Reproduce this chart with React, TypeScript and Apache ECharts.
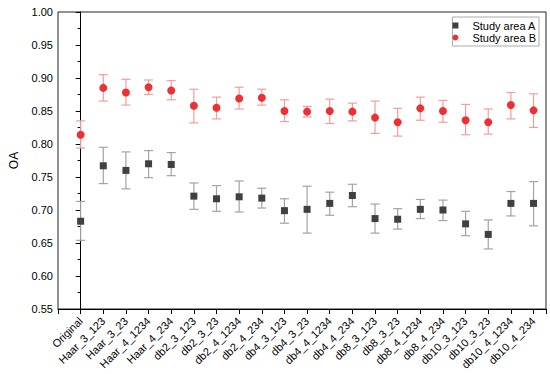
import React, { useEffect, useRef } from "react";
import * as echarts from "echarts";

const categories = [
  "Original", "Haar_3_123", "Haar_3_23", "Haar_4_1234", "Haar_4_234",
  "db2_3_123", "db2_3_23", "db2_4_1234", "db2_4_234",
  "db4_3_123", "db4_3_23", "db4_4_1234", "db4_4_234",
  "db8_3_123", "db8_3_23", "db8_4_1234", "db8_4_234",
  "db10_3_123", "db10_3_23", "db10_4_1234", "db10_4_234",
];

const aMean = [0.683, 0.767, 0.760, 0.770, 0.769, 0.721, 0.717, 0.720, 0.718, 0.699, 0.701, 0.710, 0.722, 0.687, 0.686, 0.701, 0.700, 0.679, 0.663, 0.710, 0.710];
const aLow = [0.654, 0.740, 0.732, 0.749, 0.752, 0.701, 0.698, 0.697, 0.703, 0.680, 0.665, 0.692, 0.705, 0.665, 0.671, 0.687, 0.684, 0.661, 0.641, 0.691, 0.676];
const aHigh = [0.713, 0.795, 0.788, 0.790, 0.787, 0.741, 0.737, 0.744, 0.733, 0.717, 0.736, 0.727, 0.739, 0.709, 0.702, 0.716, 0.715, 0.698, 0.685, 0.728, 0.743];

const bMean = [0.814, 0.885, 0.878, 0.886, 0.881, 0.858, 0.855, 0.869, 0.870, 0.850, 0.849, 0.850, 0.849, 0.840, 0.833, 0.854, 0.850, 0.836, 0.833, 0.859, 0.851];
const bLow = [0.794, 0.865, 0.859, 0.875, 0.867, 0.832, 0.838, 0.853, 0.859, 0.834, 0.841, 0.831, 0.835, 0.816, 0.812, 0.836, 0.833, 0.814, 0.815, 0.838, 0.825];
const bHigh = [0.835, 0.905, 0.898, 0.897, 0.896, 0.883, 0.871, 0.886, 0.883, 0.867, 0.857, 0.868, 0.862, 0.865, 0.854, 0.871, 0.866, 0.860, 0.853, 0.878, 0.876];

const yTicks = { min: 0.55, max: 1.0, interval: 0.05 };

const FONT = "Arial, 'Liberation Sans', sans-serif";

function errorBarSeries(name: string, low: number[], high: number[], color: string) {
  return {
    type: "custom",
    name: name + " err",
    z: 1,
    silent: true,
    data: low.map((l, i) => [i, l, high[i]]),
    encode: { x: 0, y: [1, 2] },
    renderItem: (params: any, api: any) => {
      const x = api.value(0);
      const lo = api.coord([x, api.value(1)]);
      const hi = api.coord([x, api.value(2)]);
      const w = 4.5;
      const style = { stroke: color, lineWidth: 1.2 };
      return {
        type: "group",
        children: [
          { type: "line", shape: { x1: lo[0], y1: lo[1], x2: hi[0], y2: hi[1] }, style },
          { type: "line", shape: { x1: lo[0] - w, y1: lo[1], x2: lo[0] + w, y2: lo[1] }, style },
          { type: "line", shape: { x1: hi[0] - w, y1: hi[1], x2: hi[0] + w, y2: hi[1] }, style },
        ],
      };
    },
  };
}

export default function App() {
  const ref = useRef<HTMLDivElement>(null);
  useEffect(() => {
    if (!ref.current) return;
    const chart = echarts.init(ref.current, null, { renderer: "svg" });
    chart.setOption({
      animation: false,
      backgroundColor: "#fff",
      textStyle: { fontFamily: FONT },
      grid: {
        left: 52, right: 4, top: 12, bottom: 65,
        show: true, borderColor: "#222", borderWidth: 1,
      },
      legend: {
        orient: "vertical",
        right: 11,
        top: 17,
        itemWidth: 24,
        itemHeight: 6,
        itemGap: 1,
        padding: [3, 3, 3, 0],
        borderColor: "#aaa",
        borderWidth: 1,
        textStyle: { fontSize: 11, color: "#000", fontFamily: FONT },
        data: [
          { name: "Study area A", icon: "path://M0,0L10,0L10,10L0,10Z" },
          { name: "Study area B", icon: "circle" },
        ],
      },
      xAxis: {
        type: "value",
        min: -1,
        max: 20.55,
        interval: 1,
        splitLine: { show: false },
        axisLine: { lineStyle: { color: "#000" } },
        axisTick: { length: 5, lineStyle: { color: "#000" } },
        axisLabel: {
          rotate: 45,
          fontSize: 11,
          color: "#000",
          margin: 10,
          fontFamily: FONT,
          formatter: (v: number) => {
            const i = Math.round(v);
            return Math.abs(v - i) < 1e-6 && i >= 0 && i < categories.length ? categories[i] : "";
          },
        },
      },
      yAxis: {
        type: "value",
        min: yTicks.min,
        max: yTicks.max,
        interval: yTicks.interval,
        name: "OA",
        nameLocation: "middle",
        nameGap: 38,
        nameTextStyle: { fontSize: 12, color: "#000", fontFamily: FONT },
        splitLine: { show: false },
        axisLine: { show: true, lineStyle: { color: "#000" } },
        axisTick: { length: 5, lineStyle: { color: "#000" } },
        minorTick: { show: true, splitNumber: 2, length: 3, lineStyle: { color: "#000" } },
        axisLabel: {
          fontSize: 11,
          color: "#000",
          margin: 5,
          fontFamily: FONT,
          formatter: (v: number) => v.toFixed(2),
        },
      },
      series: [
        errorBarSeries("Study area A", aLow, aHigh, "#a3a3a3"),
        errorBarSeries("Study area B", bLow, bHigh, "#f59c9c"),
        {
          type: "scatter",
          name: "Study area A",
          z: 3,
          symbol: "rect",
          symbolSize: 7,
          itemStyle: { color: "#404040", opacity: 1 },
          data: aMean.map((v, i) => [i, v]),
        },
        {
          type: "scatter",
          name: "Study area B",
          z: 3,
          symbol: "circle",
          symbolSize: 8,
          itemStyle: { color: "#ee3035", opacity: 1 },
          data: bMean.map((v, i) => [i, v]),
        },
      ],
    });
    return () => chart.dispose();
  }, []);
  return <div ref={ref} style={{ width: 550, height: 374, position: "absolute", left: 0, top: 0 }} />;
}
